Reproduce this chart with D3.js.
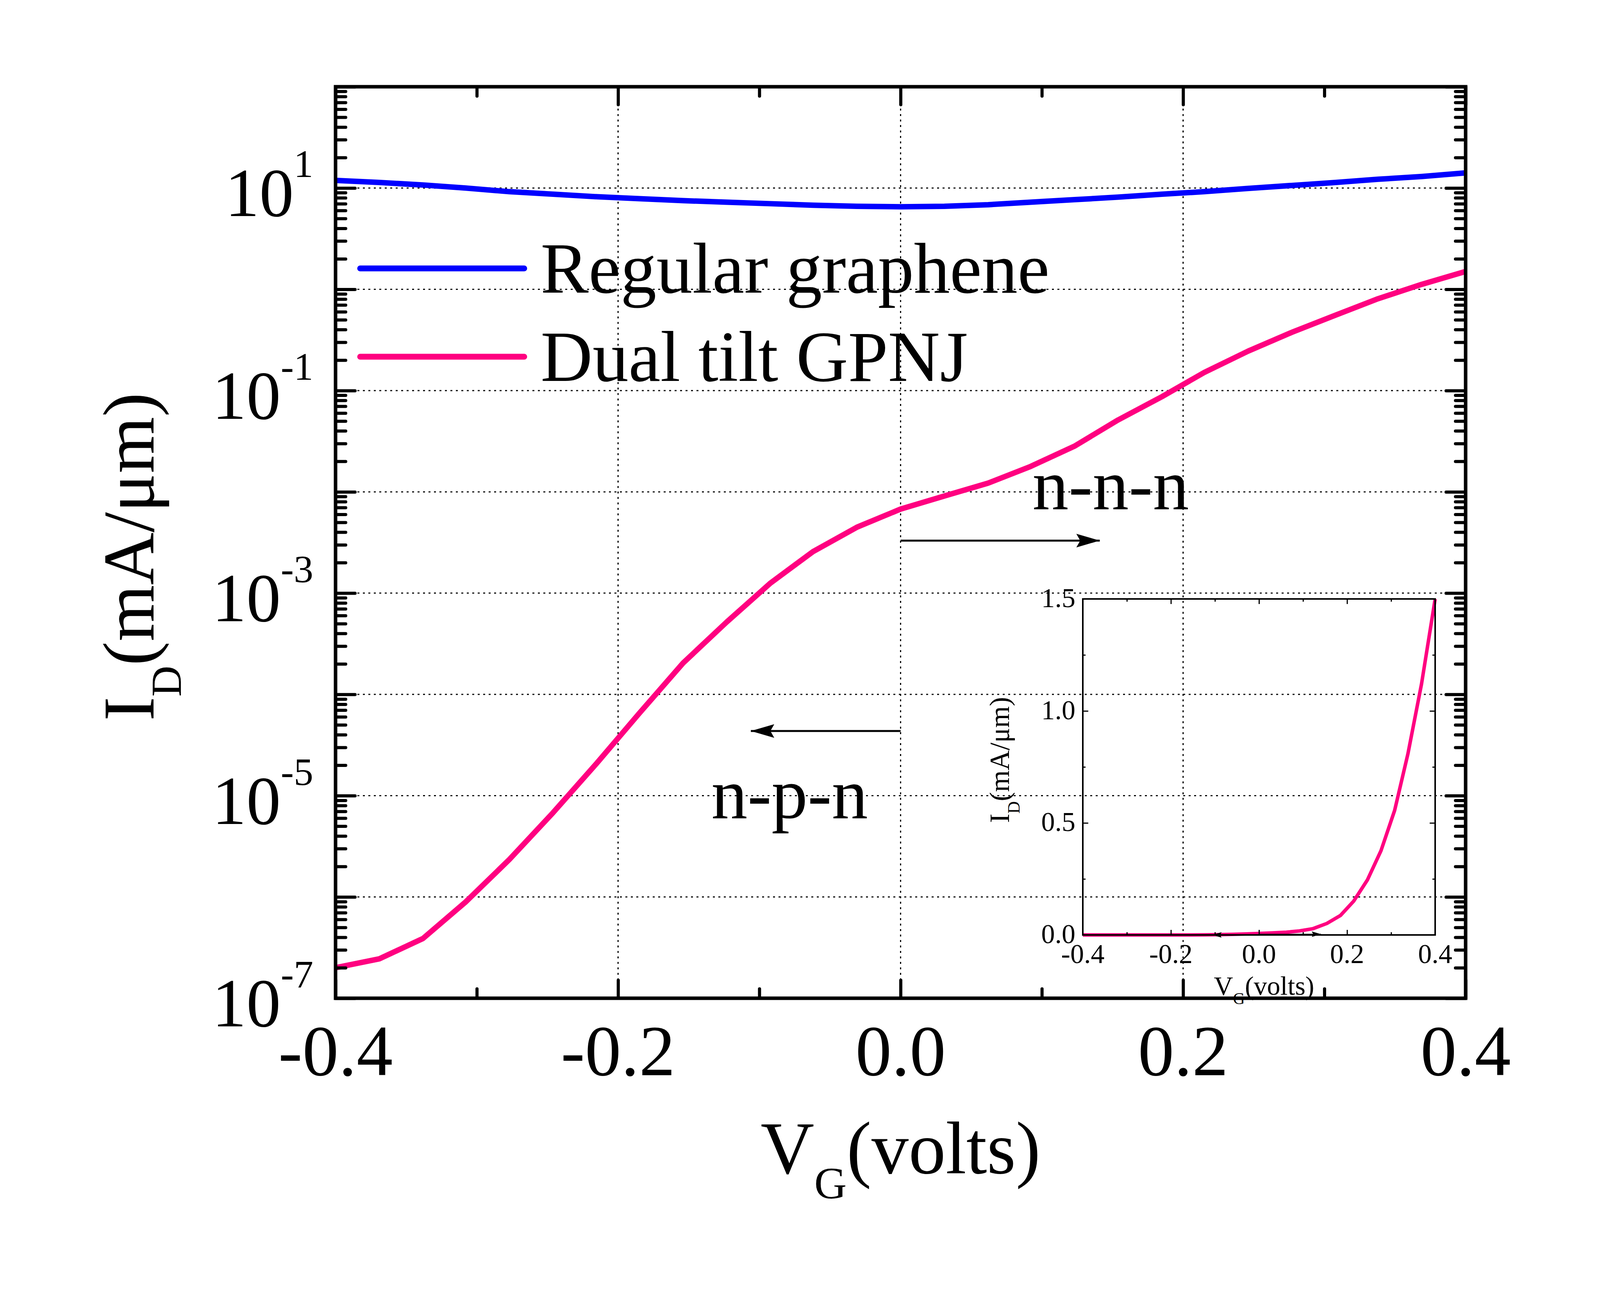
<!DOCTYPE html>
<html>
<head>
<meta charset="utf-8">
<script src="https://cdn.jsdelivr.net/npm/d3@7"></script>
<style>
  body { margin: 0; background: #fff; overflow: hidden; }
  svg { display: block; }
  text { font-family: "Liberation Serif", "Times New Roman", serif; fill: #000; }
</style>
</head>
<body>
<div id="chart"></div>
<script>
// gate voltage grid (volts)
const vg = [-0.4, -0.369, -0.338, -0.308, -0.277, -0.246, -0.215, -0.185, -0.154, -0.123, -0.092, -0.062, -0.031,
  0, 0.031, 0.062, 0.092, 0.123, 0.154, 0.185, 0.215, 0.246, 0.277, 0.308, 0.338, 0.369, 0.4]

// drain current (mA/um)
const regularGraphene = [11.9, 11.35, 10.7, 10.0, 9.2, 8.7, 8.2, 7.85, 7.5, 7.25, 7.0, 6.76, 6.6,
  6.53, 6.6, 6.84, 7.25, 7.67, 8.13, 8.7, 9.2, 9.9, 10.6, 11.35, 12.2, 13.0, 14.1]
const dualTiltGPNJ = [2.0e-7, 2.45e-7, 3.9e-7, 8.9e-7, 2.34e-6, 6.8e-6, 2.1e-5, 6.5e-5, 2.04e-4, 5.2e-4, 1.26e-3, 2.57e-3, 4.47e-3,
  6.76e-3, 9.1e-3, 1.22e-2, 1.78e-2, 2.82e-2, 5.13e-2, 8.7e-2, 0.151, 0.245, 0.376, 0.556, 0.807, 1.12, 1.5]

const seriesNames = ['Regular graphene', 'Dual tilt GPNJ']
const seriesColors = ['#0000ff', '#ff0080']

// axis ticks
const xMajor = [-0.4, -0.2, 0, 0.2, 0.4]
const xMinor = [-0.3, -0.1, 0.1, 0.3]
const xTickLabels = ['-0.4', '-0.2', '0.0', '0.2', '0.4']
const yLabelExps = [1, -1, -3, -5, -7]
const xGrid = [-0.2, 0, 0.2]

const insetYMajor = [0, 0.5, 1, 1.5]
const insetYMinor = [0.25, 0.75, 1.25]
const insetYLabels = ['0.0', '0.5', '1.0', '1.5']

// annotation arrows (data coords: start, tip, current level)
const arrows = [
  { from: 0, to: 0.141, at: 3.3e-3 },
  { from: 0, to: -0.106, at: 4.35e-5 }
]

const W = 4125, H = 3312
const plot = { left: 859, right: 3752, top: 222, bottom: 2555 }
const inset = { left: 2772, right: 3674, top: 1533, bottom: 2393 }

const svg = d3.select('#chart').append('svg')
  .attr('width', W).attr('height', H)
svg.append('rect').attr('width', W).attr('height', H).attr('fill', '#fff')

const defs = svg.append('defs')
defs.append('marker').attr('id', 'head')
  .attr('viewBox', '0 0 12 7').attr('refX', 12).attr('refY', 3.5)
  .attr('markerWidth', 12).attr('markerHeight', 7).attr('markerUnits', 'strokeWidth')
  .attr('orient', 'auto')
  .append('path').attr('d', 'M0,0 L12,3.5 L0,7 L2,3.5 Z').attr('fill', '#000')

//scales
const x = d3.scaleLinear().domain([-0.4, 0.4]).range([plot.left, plot.right])
const y = d3.scaleLog().domain([1e-7, 1e2]).range([plot.bottom, plot.top])

const decades = d3.range(-7, 3).map(e => Math.pow(10, e))
const minorY = y.ticks().filter(v => !decades.some(d => Math.abs(d - v) / d < 1e-6))

//grid
const grid = svg.append('g')
  .attr('stroke', '#000').attr('stroke-width', 3).attr('stroke-dasharray', '5,9')
grid.selectAll('.hg').data(decades.filter(d => d > 1e-7 && d < 1e2)).join('line')
  .attr('x1', plot.left).attr('x2', plot.right)
  .attr('y1', d => y(d)).attr('y2', d => y(d))
grid.selectAll('.vg').data(xGrid).join('line')
  .attr('x1', d => x(d)).attr('x2', d => x(d))
  .attr('y1', plot.top).attr('y2', plot.bottom)

//curves
const series = [regularGraphene, dualTiltGPNJ]
const line = d3.line().x((d, i) => x(vg[i])).y(d => y(d))
svg.append('g').selectAll('path').data(series).join('path')
  .attr('d', line)
  .attr('fill', 'none')
  .attr('stroke', (d, i) => seriesColors[i])
  .attr('stroke-width', 14)
  .attr('stroke-linejoin', 'round')

//frame
svg.append('rect')
  .attr('x', plot.left).attr('y', plot.top)
  .attr('width', plot.right - plot.left).attr('height', plot.bottom - plot.top)
  .attr('fill', 'none').attr('stroke', '#000').attr('stroke-width', 9)

// inward ticks on all four sides
function ticks(axis, transform, values, size, width) {
  svg.append('g')
    .attr('transform', transform)
    .call(axis.tickValues(values).tickSize(-size).tickFormat(''))
    .call(g => g.select('.domain').remove())
    .call(g => g.selectAll('line').attr('stroke-width', width).attr('stroke-linecap', 'round'))
}
ticks(d3.axisLeft(y), `translate(${plot.left},0)`, decades, 50, 8)
ticks(d3.axisLeft(y), `translate(${plot.left},0)`, minorY, 26, 8)
ticks(d3.axisRight(y), `translate(${plot.right},0)`, decades, 50, 8)
ticks(d3.axisRight(y), `translate(${plot.right},0)`, minorY, 26, 8)
ticks(d3.axisBottom(x), `translate(0,${plot.bottom})`, xMajor, 46, 8)
ticks(d3.axisBottom(x), `translate(0,${plot.bottom})`, xMinor, 24, 8)
ticks(d3.axisTop(x), `translate(0,${plot.top})`, xMajor, 46, 8)
ticks(d3.axisTop(x), `translate(0,${plot.top})`, xMinor, 24, 8)

//tick labels
svg.append('g').selectAll('text').data(xMajor).join('text')
  .attr('x', d => x(d)).attr('y', 2752)
  .attr('text-anchor', 'middle').attr('font-size', 185)
  .text((d, i) => xTickLabels[i])

const yl = svg.append('g').selectAll('text').data(yLabelExps).join('text')
  .attr('x', 802).attr('y', d => y(Math.pow(10, d)) + 72)
  .attr('text-anchor', 'end').attr('font-size', 176)
yl.append('tspan').text('10')
yl.append('tspan').attr('font-size', 100).attr('dy', -100).text(d => d)

//axis titles
const xt = svg.append('text')
  .attr('x', (plot.left + plot.right) / 2).attr('y', 3003)
  .attr('text-anchor', 'middle').attr('font-size', 190)
xt.append('tspan').text('V')
xt.append('tspan').attr('font-size', 115).attr('dy', 64).text('G')
xt.append('tspan').attr('dy', -64).text('(volts)')

const yt = svg.append('text')
  .attr('transform', `translate(393,1425) rotate(-90)`)
  .attr('text-anchor', 'middle').attr('font-size', 186)
yt.append('tspan').text('I')
yt.append('tspan').attr('font-size', 110).attr('dy', 70).text('D')
yt.append('tspan').attr('dy', -70).text('(mA/μm)')

//legend
const legendY = [687, 913]
const lg = svg.append('g').selectAll('g').data(seriesNames).join('g')
lg.append('line')
  .attr('x1', 922).attr('x2', 1342)
  .attr('y1', (d, i) => legendY[i]).attr('y2', (d, i) => legendY[i])
  .attr('stroke', (d, i) => seriesColors[i]).attr('stroke-width', 15).attr('stroke-linecap', 'round')
lg.append('text')
  .attr('x', 1384).attr('y', (d, i) => legendY[i] + 62)
  .attr('font-size', 184)
  .text(d => d)

//annotations
svg.append('g').selectAll('line').data(arrows).join('line')
  .attr('x1', d => x(d.from)).attr('x2', d => x(d.to))
  .attr('y1', d => y(d.at)).attr('y2', d => y(d.at))
  .attr('stroke', '#000').attr('stroke-width', 5)
  .attr('marker-end', 'url(#head)')
svg.append('text').attr('x', 2643).attr('y', 1303).attr('font-size', 185).text('n-n-n')
svg.append('text').attr('x', 1821).attr('y', 2094).attr('font-size', 185).text('n-p-n')

//inset (linear view of the GPNJ curve)
const ix = d3.scaleLinear().domain([-0.4, 0.4]).range([inset.left, inset.right])
const iy = d3.scaleLinear().domain([0, 1.5]).range([inset.bottom, inset.top])

svg.append('path')
  .attr('d', d3.line().x((d, i) => ix(vg[i])).y(d => iy(d))(dualTiltGPNJ))
  .attr('fill', 'none').attr('stroke', seriesColors[1]).attr('stroke-width', 9)
  .attr('stroke-linejoin', 'round')

svg.append('g').selectAll('line').data(arrows).join('line')
  .attr('x1', d => ix(d.from)).attr('x2', d => ix(d.to))
  .attr('y1', d => iy(d.at)).attr('y2', d => iy(d.at))
  .attr('stroke', '#000').attr('stroke-width', 2)
  .attr('marker-end', 'url(#head)')

svg.append('rect')
  .attr('x', inset.left).attr('y', inset.top)
  .attr('width', inset.right - inset.left).attr('height', inset.bottom - inset.top)
  .attr('fill', 'none').attr('stroke', '#000').attr('stroke-width', 4)

function iticks(axis, transform, values, size) {
  svg.append('g')
    .attr('transform', transform)
    .call(axis.tickValues(values).tickSize(-size).tickFormat(''))
    .call(g => g.select('.domain').remove())
    .call(g => g.selectAll('line').attr('stroke-width', 3))
}
iticks(d3.axisLeft(iy), `translate(${inset.left},0)`, insetYMajor, 14)
iticks(d3.axisLeft(iy), `translate(${inset.left},0)`, insetYMinor, 7)
iticks(d3.axisRight(iy), `translate(${inset.right},0)`, insetYMajor, 14)
iticks(d3.axisRight(iy), `translate(${inset.right},0)`, insetYMinor, 7)
iticks(d3.axisBottom(ix), `translate(0,${inset.bottom})`, xMajor, 13)
iticks(d3.axisBottom(ix), `translate(0,${inset.bottom})`, xMinor, 7)
iticks(d3.axisTop(ix), `translate(0,${inset.top})`, xMajor, 13)
iticks(d3.axisTop(ix), `translate(0,${inset.top})`, xMinor, 7)

svg.append('g').selectAll('text').data(xMajor).join('text')
  .attr('x', d => ix(d)).attr('y', 2465)
  .attr('text-anchor', 'middle').attr('font-size', 70)
  .text((d, i) => xTickLabels[i])
svg.append('g').selectAll('text').data(insetYMajor).join('text')
  .attr('x', 2753).attr('y', d => iy(d) + 21)
  .attr('text-anchor', 'end').attr('font-size', 70)
  .text((d, i) => insetYLabels[i])

const ixt = svg.append('text')
  .attr('x', 3236).attr('y', 2546)
  .attr('text-anchor', 'middle').attr('font-size', 68)
ixt.append('tspan').text('V')
ixt.append('tspan').attr('font-size', 42).attr('dy', 24).text('G')
ixt.append('tspan').attr('dy', -24).text('(volts)')

const iyt = svg.append('text')
  .attr('transform', `translate(2583,1945) rotate(-90)`)
  .attr('text-anchor', 'middle').attr('font-size', 71)
iyt.append('tspan').text('I')
iyt.append('tspan').attr('font-size', 44).attr('dy', 27).text('D')
iyt.append('tspan').attr('dy', -27).text('(mA/μm)')
</script>
</body>
</html>
